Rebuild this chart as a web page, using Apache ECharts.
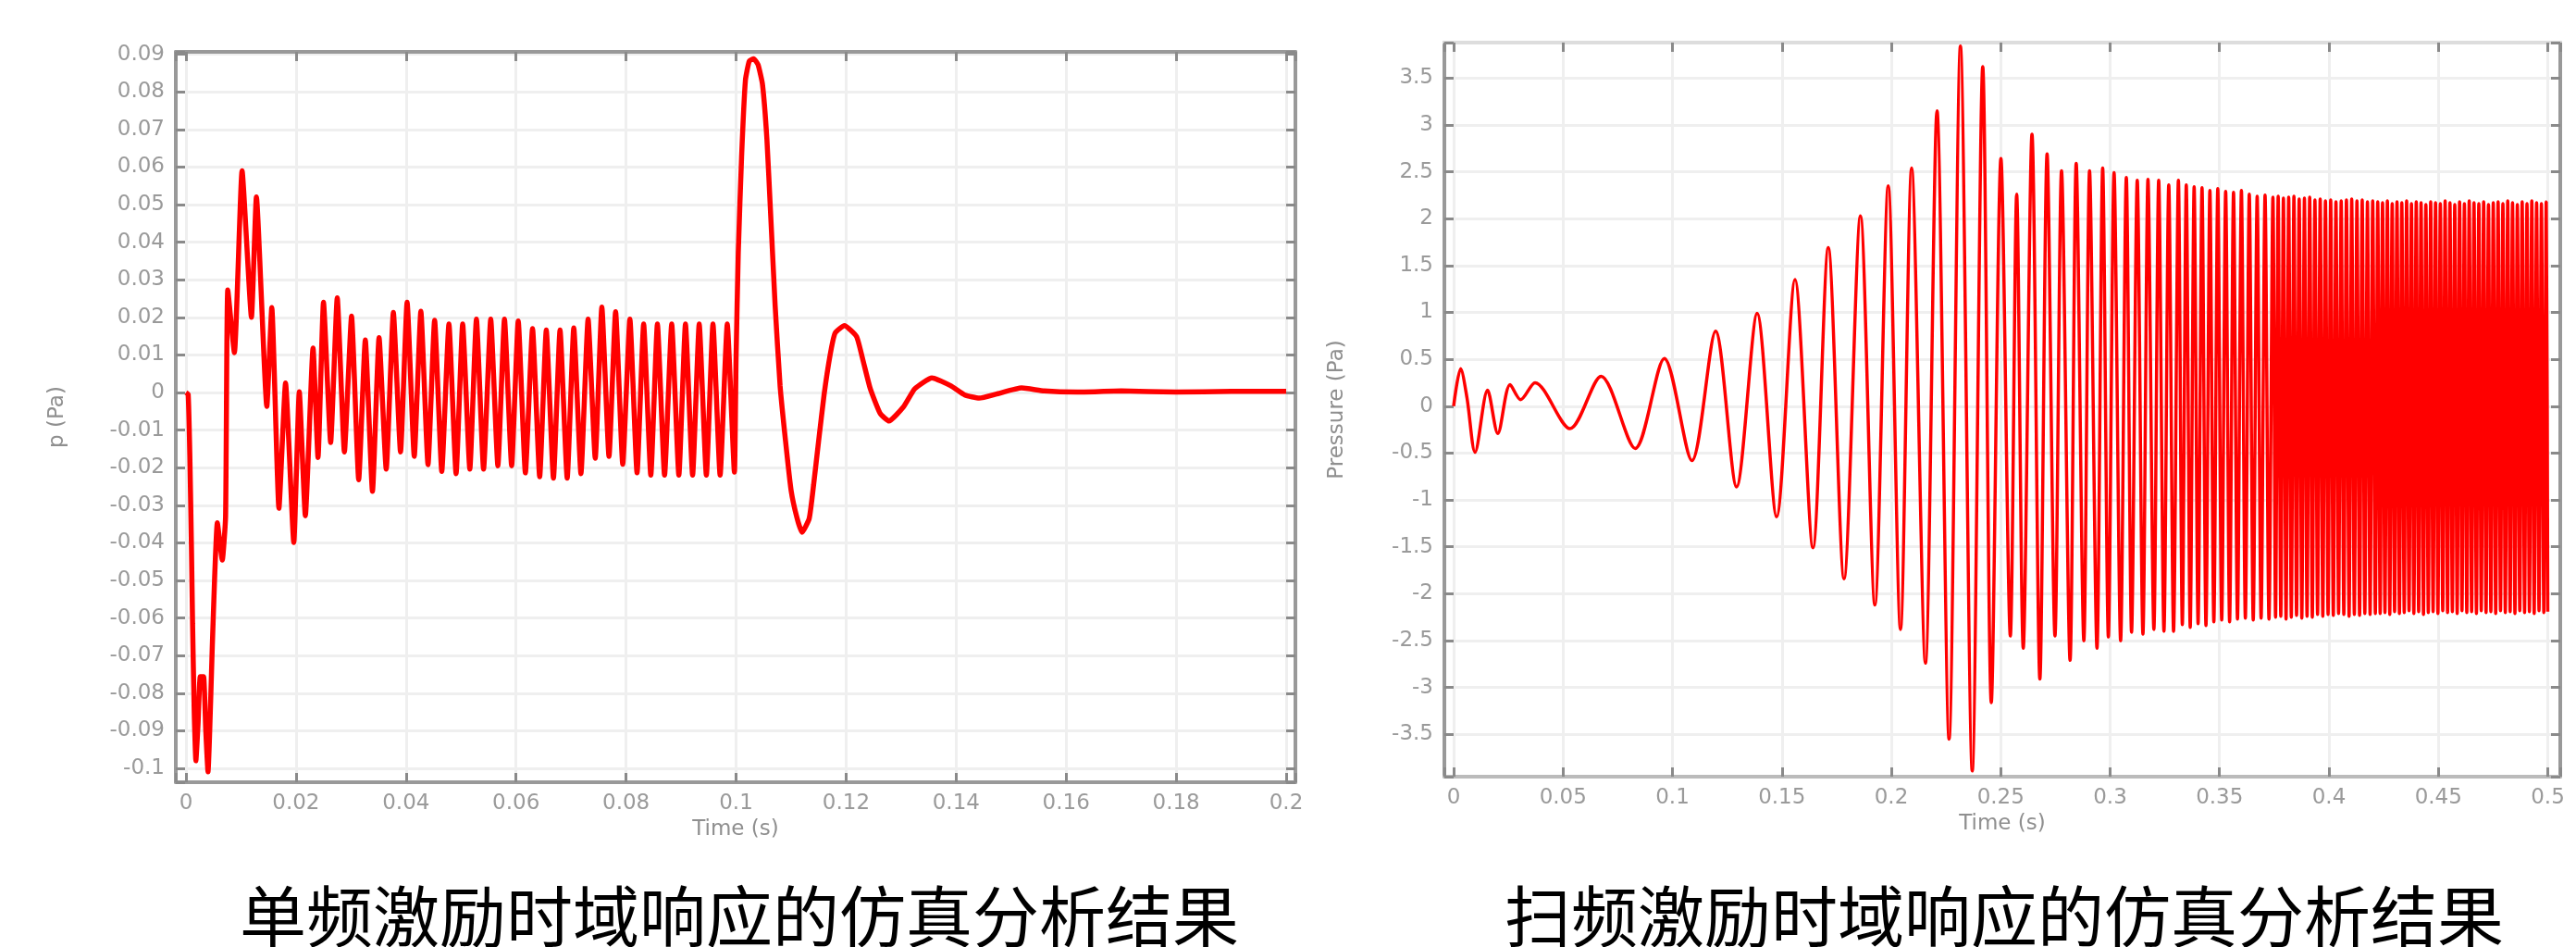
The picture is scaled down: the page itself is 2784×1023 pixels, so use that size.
<!DOCTYPE html>
<html>
<head>
<meta charset="utf-8">
<script src="https://cdn.jsdelivr.net/npm/echarts@6/dist/echarts.min.js"></script>
<style>
html,body{margin:0;padding:0;background:#ffffff;}
#c{width:2784px;height:1023px;}
</style>
</head>
<body>
<div id="c"></div>
<script>
// ---------- data ----------
// Single-frequency excitation: time (s) and pressure p (Pa)
const singleTime = [
  0.0000, 0.0004, 0.0007, 0.0010, 0.0012, 0.0015, 0.0018, 0.0022, 0.0026, 0.0032,
  0.0036, 0.0040, 0.0048, 0.0052, 0.0057, 0.0066, 0.0072, 0.0076, 0.0088, 0.0102,
  0.0119, 0.0128, 0.0147, 0.0156, 0.0169, 0.0181, 0.0196, 0.0206, 0.0217, 0.0231,
  0.0240,
  0.0250, 0.0263, 0.0275, 0.0288, 0.0301, 0.0314, 0.0326, 0.0339, 0.0351, 0.0364,
  0.0377, 0.0390, 0.0402, 0.0415, 0.0427, 0.0440, 0.0452, 0.0465, 0.0478, 0.0491,
  0.0503, 0.0516, 0.0528, 0.0541, 0.0554, 0.0567, 0.0579, 0.0592, 0.0604, 0.0617,
  0.0630, 0.0643, 0.0655, 0.0668, 0.0680, 0.0693, 0.0705, 0.0718, 0.0731, 0.0744,
  0.0756, 0.0769, 0.0781, 0.0794, 0.0807, 0.0820, 0.0832, 0.0845, 0.0857, 0.0870,
  0.0883, 0.0896, 0.0908, 0.0921, 0.0933, 0.0946, 0.0958, 0.0971, 0.0984, 0.0997,
  0.1000, 0.1004, 0.1010, 0.1017, 0.1024, 0.1032, 0.1040, 0.1048, 0.1056, 0.1063,
  0.1071, 0.1080, 0.1090, 0.1100, 0.1111, 0.1120, 0.1133, 0.1141, 0.1150, 0.1160,
  0.1171, 0.1180, 0.1197, 0.1219, 0.1231, 0.1244, 0.1262, 0.1278, 0.1304, 0.1325,
  0.1356, 0.1390, 0.1416, 0.1442, 0.1476, 0.1519, 0.1560, 0.1620, 0.1700, 0.1800,
  0.1900, 0.2000
];
const singlePressure = [
  0.0000, -0.0005, -0.0167, -0.0417, -0.0615, -0.0850, -0.0980, -0.0880, -0.0756, -0.0756,
  -0.0900, -0.1009, -0.0669, -0.0496, -0.0347, -0.0446, -0.0330, 0.0273, 0.0106, 0.0590,
  0.0200, 0.0520, -0.0037, 0.0226, -0.0308, 0.0025, -0.0399, 0.0002, -0.0328, 0.0118,
  -0.0173,
  0.0240, -0.0133, 0.0252, -0.0158, 0.0203, -0.0232, 0.0140, -0.0263, 0.0146, -0.0204,
  0.0213, -0.0158, 0.0240, -0.0170, 0.0216, -0.0192, 0.0192, -0.0210, 0.0182, -0.0216,
  0.0182, -0.0204, 0.0195, -0.0204, 0.0195, -0.0195, 0.0195, -0.0195, 0.0190, -0.0214,
  0.0170, -0.0224, 0.0166, -0.0228, 0.0166, -0.0228, 0.0172, -0.0216, 0.0195, -0.0175,
  0.0227, -0.0170, 0.0215, -0.0191, 0.0195, -0.0214, 0.0182, -0.0220, 0.0182, -0.0220,
  0.0182, -0.0220, 0.0182, -0.0220, 0.0182, -0.0220, 0.0182, -0.0220, 0.0182, -0.0212,
  0.0092, 0.0372, 0.0626, 0.0831, 0.0882, 0.0888, 0.0872, 0.0820, 0.0675, 0.0470,
  0.0232, 0.0018, -0.0130, -0.0260, -0.0335, -0.0372, -0.0335, -0.0245, -0.0130, -0.0006,
  0.0100, 0.0158, 0.0178, 0.0149, 0.0084, 0.0010, -0.0056, -0.0076, -0.0039, 0.0010,
  0.0039, 0.0018, -0.0007, -0.0015, -0.0003, 0.0012, 0.0004, 0.0001, 0.0004, 0.0001,
  0.0003, 0.0003
];

// Swept-frequency excitation: time (s) and pressure (Pa)
const sweepTime = [
  0.0000, 0.0032, 0.0061, 0.0098, 0.0155, 0.0202, 0.0258, 0.0306, 0.0372, 0.0532,
  0.0674, 0.0830, 0.0963, 0.1089, 0.1197, 0.1293, 0.1387, 0.1476, 0.1560, 0.1642,
  0.1712, 0.1784, 0.1859, 0.1925, 0.1986, 0.2042, 0.2093, 0.2156, 0.2209, 0.2264,
  0.2316, 0.2370, 0.2418, 0.2457, 0.2501, 0.2544, 0.2573, 0.2603, 0.2643, 0.2679,
  0.2712, 0.2748, 0.2778, 0.2817, 0.2845, 0.2880, 0.2906, 0.2940, 0.2966, 0.2992,
  0.3018, 0.3048, 0.3074, 0.3098, 0.3124, 0.3150, 0.3173, 0.3200, 0.3222, 0.3246,
  0.3268, 0.3290, 0.3312,
  0.3330, 0.3348, 0.3366, 0.3384, 0.3402, 0.3420, 0.3438, 0.3456, 0.3474, 0.3492,
  0.3510, 0.3528, 0.3546, 0.3564, 0.3582, 0.3600, 0.3618, 0.3636, 0.3654, 0.3672,
  0.3690, 0.3708, 0.3726, 0.3744,
  0.3756, 0.3768, 0.3780, 0.3792, 0.3804, 0.3816, 0.3828, 0.3840, 0.3852, 0.3864,
  0.3876, 0.3888, 0.3900, 0.3912, 0.3924, 0.3936, 0.3948, 0.3960, 0.3972, 0.3984,
  0.3996, 0.4008, 0.4020, 0.4032, 0.4044, 0.4056, 0.4068, 0.4080, 0.4092, 0.4104,
  0.4116, 0.4128, 0.4140, 0.4152, 0.4164, 0.4176, 0.4188, 0.4200, 0.4212,
  0.4223, 0.4234, 0.4245, 0.4256, 0.4267, 0.4278, 0.4289, 0.4300, 0.4311, 0.4322,
  0.4333, 0.4344, 0.4355, 0.4366, 0.4377, 0.4388, 0.4399, 0.4410, 0.4421, 0.4432,
  0.4443, 0.4454, 0.4465, 0.4476, 0.4487, 0.4498, 0.4509, 0.4520, 0.4531, 0.4542,
  0.4553, 0.4564, 0.4575, 0.4586, 0.4597, 0.4608, 0.4619, 0.4630, 0.4641, 0.4652,
  0.4663, 0.4674, 0.4685, 0.4696, 0.4707, 0.4718, 0.4729, 0.4740, 0.4751, 0.4762,
  0.4773, 0.4784, 0.4795, 0.4806, 0.4817, 0.4828, 0.4839, 0.4850, 0.4861, 0.4872,
  0.4883, 0.4894, 0.4905, 0.4916, 0.4927, 0.4938, 0.4949, 0.4960, 0.4971, 0.4982,
  0.4993, 0.5000
];
const sweepPressure = [
  0.00, 0.40, 0.09, -0.49, 0.17, -0.29, 0.23, 0.07, 0.25, -0.24,
  0.32, -0.45, 0.51, -0.58, 0.80, -0.86, 0.99, -1.18, 1.35, -1.51,
  1.69, -1.84, 2.03, -2.12, 2.35, -2.38, 2.54, -2.74, 3.15, -3.55,
  3.84, -3.89, 3.62, -3.16, 2.64, -2.45, 2.26, -2.58, 2.90, -2.91,
  2.69, -2.45, 2.51, -2.71, 2.59, -2.50, 2.51, -2.58, 2.54, -2.46,
  2.49, -2.50, 2.44, -2.41, 2.41, -2.43, 2.42, -2.38, 2.41, -2.40,
  2.36, -2.40, 2.41,
  -2.33, 2.36, -2.36, 2.34, -2.32, 2.33, -2.34, 2.30, -2.30, 2.32,
  -2.28, 2.29, -2.30, 2.28, -2.27, 2.30, -2.26, 2.26, -2.28, 2.24,
  -2.26, 2.25, -2.27, 2.23,
  -2.25, 2.24, -2.24, 2.22, -2.27, 2.23, -2.25, 2.24, -2.23, 2.21,
  -2.26, 2.22, -2.24, 2.23, -2.25, 2.20, -2.22, 2.21, -2.24, 2.19,
  -2.22, 2.20, -2.23, 2.18, -2.21, 2.19, -2.22, 2.20, -2.24, 2.21,
  -2.22, 2.19, -2.23, 2.20, -2.21, 2.18, -2.22, 2.19, -2.21,
  2.18, -2.21, 2.17, -2.20, 2.19, -2.22, 2.16, -2.19, 2.18, -2.21,
  2.17, -2.20, 2.19, -2.18, 2.16, -2.21, 2.18, -2.19, 2.17, -2.22,
  2.15, -2.20, 2.18, -2.19, 2.17, -2.21, 2.16, -2.18, 2.19, -2.20,
  2.17, -2.19, 2.15, -2.21, 2.18, -2.18, 2.16, -2.20, 2.19, -2.19,
  2.17, -2.21, 2.16, -2.18, 2.18, -2.20, 2.15, -2.19, 2.17, -2.21,
  2.18, -2.18, 2.16, -2.20, 2.19, -2.19, 2.17, -2.21, 2.15, -2.18,
  2.18, -2.20, 2.16, -2.19, 2.19, -2.21, 2.17, -2.18, 2.16, -2.20,
  2.18, -2.19
];

// axis ranges and tick steps
const singleXRange = [-0.00185, 0.20168];
const singleYRange = [-0.1037, 0.09064];
const singleXStep = 0.02;
const singleYStep = 0.01;
const sweepXRange = [-0.00423, 0.50571];
const sweepYRange = [-3.9507, 3.8776];
const sweepXStep = 0.05;
const sweepYStep = 0.5;

const axisTitles = { singleX: 'Time (s)', singleY: 'p (Pa)', sweepX: 'Time (s)', sweepY: 'Pressure (Pa)' };
const captions = ['单频激励时域响应的仿真分析结果', '扫频激励时域响应的仿真分析结果'];

// ---------- chart ----------
const zip = (a, b) => a.map((v, i) => [v, b[i]]);
const singleData = zip(singleTime, singlePressure);
const sweepData = zip(sweepTime, sweepPressure);

function stepFormatter(step) {
  return function (v) {
    const k = v / step;
    if (Math.abs(k - Math.round(k)) > 1e-6) return '';
    return String(+(Math.round(k) * step).toFixed(6));
  };
}

const labelStyle = { fontFamily: 'DejaVu Sans', fontSize: 23, color: '#9a9a9a' };
const nameStyle = { fontFamily: 'DejaVu Sans', fontSize: 23, color: '#8f8f8f' };
const gridLineStyle = { color: '#efefef', width: 3 };

function frameAxis(o) {
  const base = {
    type: 'value',
    scale: false,
    axisLine: { show: true, onZero: false, lineStyle: { color: '#999999', width: 4 } },
    axisTick: { show: true, inside: true, length: 10, lineStyle: { color: '#8a8a8a', width: 3 } },
    splitLine: { show: false },
    axisLabel: { show: false },
    minorTick: { show: false },
    minorSplitLine: { show: false }
  };
  return Object.assign(base, o);
}

function mainAxis(range, step, splits, extra) {
  return frameAxis(Object.assign({
    min: range[0], max: range[1],
    minInterval: step, maxInterval: step, splitNumber: splits,
    axisLabel: Object.assign({ show: true, margin: 12, showMinLabel: true, showMaxLabel: true,
      formatter: stepFormatter(step) }, labelStyle),
    splitLine: { show: true, showMinLine: false, showMaxLine: false, lineStyle: gridLineStyle },
    nameLocation: 'middle',
    nameTextStyle: nameStyle
  }, extra));
}

function sideAxis(range, step, splits, extra) {
  return frameAxis(Object.assign({
    min: range[0], max: range[1],
    minInterval: step, maxInterval: step, splitNumber: splits
  }, extra));
}

const chart = echarts.init(document.getElementById('c'), null, { renderer: 'canvas', width: 2784, height: 1023 });

const option = {
  animation: false,
  backgroundColor: '#ffffff',
  grid: [
    { left: 190, top: 56, width: 1210, height: 789, containLabel: false, outerBoundsMode: 'none' },
    { left: 1561, top: 46, width: 1206, height: 793, containLabel: false, outerBoundsMode: 'none' }
  ],
  xAxis: [
    mainAxis(singleXRange, singleXStep, 10, { gridIndex: 0, position: 'bottom', name: axisTitles.singleX, nameGap: 40 }),
    sideAxis(singleXRange, singleXStep, 10, { gridIndex: 0, position: 'top' }),
    mainAxis(sweepXRange, sweepXStep, 10, { gridIndex: 1, position: 'bottom', name: axisTitles.sweepX, nameGap: 36,
      axisLine: { show: true, onZero: false, lineStyle: { color: '#bbbbbb', width: 4 } } }),
    sideAxis(sweepXRange, sweepXStep, 10, { gridIndex: 1, position: 'top',
      axisLine: { show: true, onZero: false, lineStyle: { color: '#dddddd', width: 4 } } })
  ],
  yAxis: [
    mainAxis(singleYRange, singleYStep, 19, { gridIndex: 0, position: 'left', name: axisTitles.singleY, nameGap: 116 }),
    sideAxis(singleYRange, singleYStep, 19, { gridIndex: 0, position: 'right' }),
    mainAxis(sweepYRange, sweepYStep, 15, { gridIndex: 1, position: 'left', name: axisTitles.sweepY, nameGap: 104 }),
    sideAxis(sweepYRange, sweepYStep, 15, { gridIndex: 1, position: 'right' })
  ],
  graphic: [
    { type: 'text', x: 799, y: 990, silent: true,
      style: { text: captions[0], fontFamily: 'Noto Sans CJK SC', fontSize: 72, fill: '#000000',
        textAlign: 'center', textVerticalAlign: 'middle' } },
    { type: 'text', x: 2166, y: 990, silent: true,
      style: { text: captions[1], fontFamily: 'Noto Sans CJK SC', fontSize: 72, fill: '#000000',
        textAlign: 'center', textVerticalAlign: 'middle' } }
  ],
  series: [
    { type: 'line', name: 'single', xAxisIndex: 0, yAxisIndex: 0, data: singleData,
      showSymbol: false, symbol: 'none', smooth: 0.15, clip: true, silent: true,
      lineStyle: { color: '#ff0000', width: 5.5 } },
    { type: 'line', name: 'sweep', xAxisIndex: 2, yAxisIndex: 2, data: sweepData,
      showSymbol: false, symbol: 'none', smooth: 0.3, clip: true, silent: true,
      lineStyle: { color: '#ff0000', width: 3.5 } }
  ]
};
chart.setOption(option);
</script>
</body>
</html>
